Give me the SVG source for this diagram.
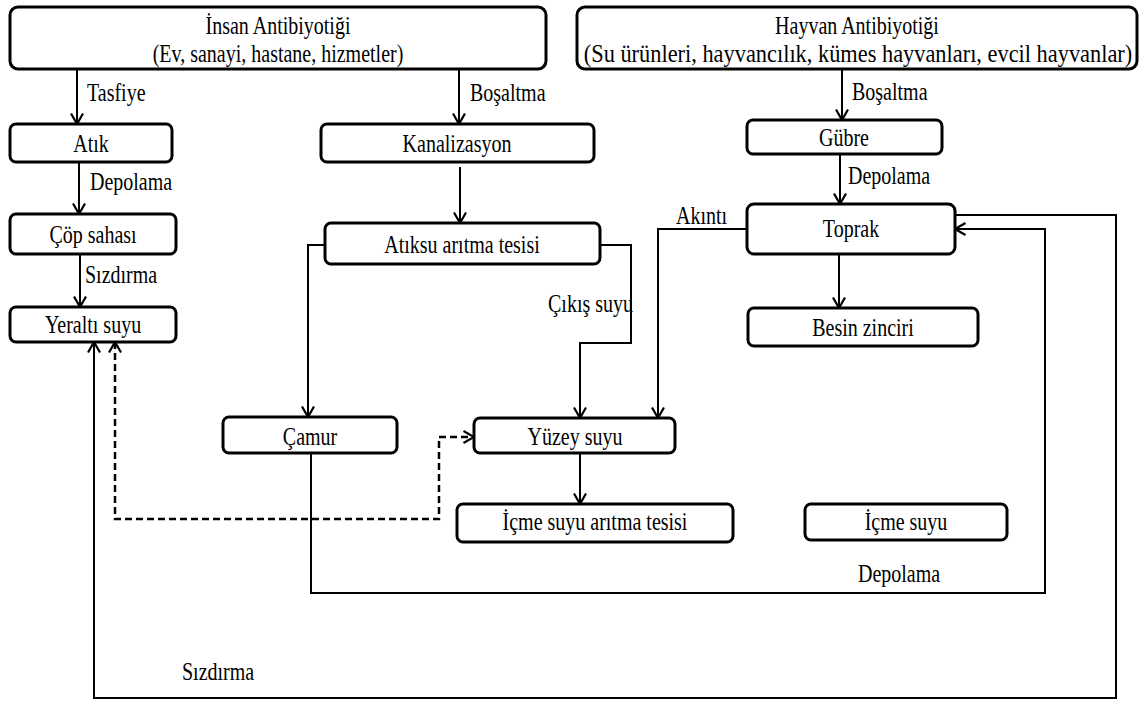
<svg xmlns="http://www.w3.org/2000/svg" width="1143" height="702" viewBox="0 0 1143 702">
<style>
.box{fill:#fff;stroke:#000;stroke-width:3}
.t{font-family:"Liberation Serif","Times New Roman",serif;font-size:25px;fill:#000}
.m{text-anchor:middle}
.c{fill:none;stroke:#000;stroke-width:2}
.d{fill:none;stroke:#000;stroke-width:2.5;stroke-dasharray:7 4}
</style>
<defs>
<marker id="arr" viewBox="0 0 14 14" markerWidth="14" markerHeight="14" refX="12.5" refY="7" orient="auto" markerUnits="userSpaceOnUse">
<path d="M2,1 L12.5,7 L2,13" fill="none" stroke="#000" stroke-width="2.2"/>
</marker>
<marker id="arrs" viewBox="0 0 14 14" markerWidth="14" markerHeight="14" refX="12.5" refY="7" orient="auto-start-reverse" markerUnits="userSpaceOnUse">
<path d="M2,1 L12.5,7 L2,13" fill="none" stroke="#000" stroke-width="2.2"/>
</marker>
</defs>
<rect width="1143" height="702" fill="#fff"/>

<g id="connectors">
<path class="c" d="M77,70 V124" marker-end="url(#arr)"/>
<path class="c" d="M459,70 V124" marker-end="url(#arr)"/>
<path class="c" d="M79,157 V214" marker-end="url(#arr)"/>
<path class="c" d="M80,254 V307" marker-end="url(#arr)"/>
<path class="c" d="M460,167 V223" marker-end="url(#arr)"/>
<path class="c" d="M325,245 H308 V417" marker-end="url(#arr)"/>
<path class="c" d="M600,245 H631 V343 H580 V418" marker-end="url(#arr)"/>
<path class="c" d="M747,229 H658 V418" marker-end="url(#arr)"/>
<path class="c" d="M842,70 V120" marker-end="url(#arr)"/>
<path class="c" d="M840,154 V204" marker-end="url(#arr)"/>
<path class="c" d="M839,254 V308" marker-end="url(#arr)"/>
<path class="c" d="M580,453 V504" marker-end="url(#arr)"/>
<path class="c" d="M311,453 V593 H1045 V229 H955" marker-end="url(#arr)"/>
<path class="c" d="M955,215 H1116 V698 H94 V342" marker-end="url(#arr)"/>
<path class="d" d="M115,342 V519 H439 V437 H474" marker-start="url(#arrs)" marker-end="url(#arr)"/>
<g class="t">
<text transform="translate(87,101) scale(0.8,1)">Tasfiye</text>
<text transform="translate(470,101) scale(0.8,1)">Boşaltma</text>
<text transform="translate(90,190) scale(0.8,1)">Depolama</text>
<text transform="translate(85,283) scale(0.8,1)">Sızdırma</text>
<text transform="translate(852,100) scale(0.8,1)">Boşaltma</text>
<text transform="translate(848,184) scale(0.8,1)">Depolama</text>
<text transform="translate(676,224) scale(0.8,1)">Akıntı</text>
<text transform="translate(548,312) scale(0.8,1)">Çıkış suyu</text>
<text transform="translate(858,582) scale(0.8,1)">Depolama</text>
<text transform="translate(182,680) scale(0.8,1)">Sızdırma</text>
</g>
</g>

<g id="insan">
<rect class="box" x="10" y="7" width="536" height="62" rx="8"/>
<text class="t m" transform="translate(278,34) scale(0.8,1)">İnsan Antibiyotiği</text>
<text class="t m" transform="translate(278,62) scale(0.8,1)">(Ev, sanayi, hastane, hizmetler)</text>
</g>
<g id="hayvan">
<rect class="box" x="577" y="7" width="560" height="62" rx="8"/>
<text class="t m" transform="translate(857,34) scale(0.8,1)">Hayvan Antibiyotiği</text>
<text class="t m" transform="translate(858,62) scale(0.895,1)">(Su ürünleri, hayvancılık, kümes hayvanları, evcil hayvanlar)</text>
</g>
<g id="atik">
<rect class="box" x="10" y="124" width="162" height="38" rx="6"/>
<text class="t m" transform="translate(91,152) scale(0.8,1)">Atık</text>
</g>
<g id="kanalizasyon">
<rect class="box" x="321" y="124" width="273" height="38" rx="6"/>
<text class="t m" transform="translate(457,152) scale(0.8,1)">Kanalizasyon</text>
</g>
<g id="gubre">
<rect class="box" x="747" y="120" width="195" height="34" rx="6"/>
<text class="t m" transform="translate(844,146) scale(0.8,1)">Gübre</text>
</g>
<g id="cop">
<rect class="box" x="10" y="214" width="166" height="40" rx="6"/>
<text class="t m" transform="translate(93,243) scale(0.8,1)">Çöp sahası</text>
</g>
<g id="atiksu">
<rect class="box" x="325" y="223" width="275" height="41" rx="6"/>
<text class="t m" transform="translate(462,253) scale(0.8,1)">Atıksu arıtma tesisi</text>
</g>
<g id="toprak">
<rect class="box" x="747" y="204" width="208" height="50" rx="7"/>
<text class="t m" transform="translate(851,237) scale(0.8,1)">Toprak</text>
</g>
<g id="yeralti">
<rect class="box" x="10" y="307" width="166" height="35" rx="6"/>
<text class="t m" transform="translate(93,333) scale(0.8,1)">Yeraltı suyu</text>
</g>
<g id="besin">
<rect class="box" x="748" y="308" width="230" height="38" rx="6"/>
<text class="t m" transform="translate(863,336) scale(0.8,1)">Besin zinciri</text>
</g>
<g id="camur">
<rect class="box" x="223" y="417" width="174" height="36" rx="6"/>
<text class="t m" transform="translate(310,445) scale(0.8,1)">Çamur</text>
</g>
<g id="yuzey">
<rect class="box" x="474" y="418" width="201" height="35" rx="6"/>
<text class="t m" transform="translate(575,445) scale(0.8,1)">Yüzey suyu</text>
</g>
<g id="icme-aritma">
<rect class="box" x="457" y="504" width="276" height="38" rx="6"/>
<text class="t m" transform="translate(595,530) scale(0.8,1)">İçme suyu arıtma tesisi</text>
</g>
<g id="icme">
<rect class="box" x="805" y="504" width="202" height="36" rx="6"/>
<text class="t m" transform="translate(906,530) scale(0.8,1)">İçme suyu</text>
</g>
</svg>
